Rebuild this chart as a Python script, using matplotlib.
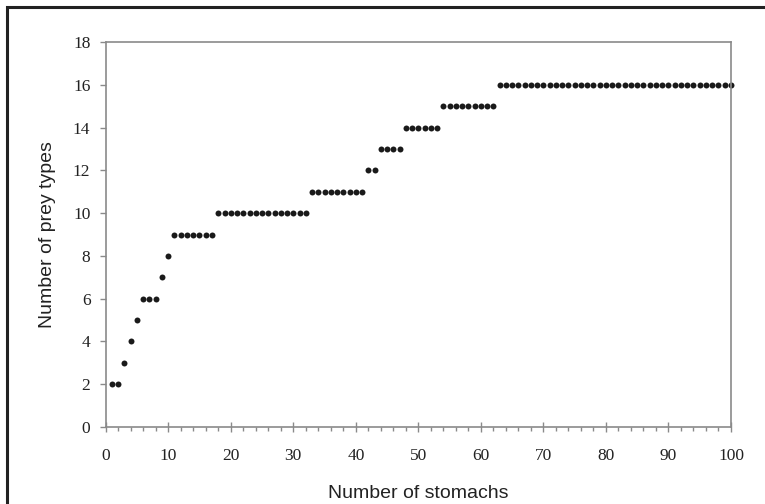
import numpy as np
import matplotlib
matplotlib.use("Agg")
import matplotlib.pyplot as plt
from matplotlib.patches import Rectangle
from matplotlib.ticker import MultipleLocator

# cumulative number of prey types against number of stomachs examined
stomachs = np.arange(1, 101)
prey_types = [
    2, 2, 3, 4, 5, 6, 6, 6, 7, 8,
    9, 9, 9, 9, 9, 9, 9, 10, 10, 10,
    10, 10, 10, 10, 10, 10, 10, 10, 10, 10,
    10, 10, 11, 11, 11, 11, 11, 11, 11, 11,
    11, 12, 12, 13, 13, 13, 13, 14, 14, 14,
    14, 14, 14, 15, 15, 15, 15, 15, 15, 15,
    15, 15, 16, 16, 16, 16, 16, 16, 16, 16,
    16, 16, 16, 16, 16, 16, 16, 16, 16, 16,
    16, 16, 16, 16, 16, 16, 16, 16, 16, 16,
    16, 16, 16, 16, 16, 16, 16, 16, 16, 16,
]
x_ticks = list(range(0, 101, 10))
y_ticks = list(range(0, 19, 2))

W, H = 765, 504
fig = plt.figure(figsize=(W / 100, H / 100), dpi=100)

# outer frame (only left and top edges are visible)
fig.patches.append(Rectangle((7 / W, -0.1), 1.2, 1 - 7 / H + 0.1,
                             transform=fig.transFigure, fill=False,
                             edgecolor="#222222", linewidth=2.2))

ax = fig.add_axes([105.7 / W, 1 - 426.7 / H, (731 - 105.7) / W, (426.7 - 42.3) / H])
ax.plot(stomachs, prey_types, "o", color="#1a1a1a", markersize=4.3,
        markeredgewidth=0, clip_on=False)

ax.set_xlim(0, 100)
ax.set_ylim(0, 18)
ax.set_xticks(x_ticks)
ax.set_yticks(y_ticks)
ax.xaxis.set_minor_locator(MultipleLocator(2))

for sp in ax.spines.values():
    sp.set_color("#8a8a8a")
    sp.set_linewidth(1.2)

serif = ["Liberation Serif", "DejaVu Serif"]
ax.tick_params(axis="x", which="major", direction="inout", length=7,
               width=1, color="#8a8a8a", pad=12)
ax.tick_params(axis="x", which="minor", direction="out", length=3,
               width=1, color="#8a8a8a")
ax.tick_params(axis="y", which="major", direction="out", length=4,
               width=1, color="#8a8a8a", pad=7)
for lab in ax.get_xticklabels() + ax.get_yticklabels():
    lab.set_fontfamily(serif)
    lab.set_fontsize(12.5)
    lab.set_color("#222222")

ax.set_xlabel("Number of stomachs", fontfamily="Liberation Sans",
              fontsize=14, color="#222222", labelpad=15)
ax.set_ylabel("Number of prey types", fontfamily="Liberation Sans",
              fontsize=14, color="#222222", labelpad=12)

fig.savefig("out.png", dpi=100)
